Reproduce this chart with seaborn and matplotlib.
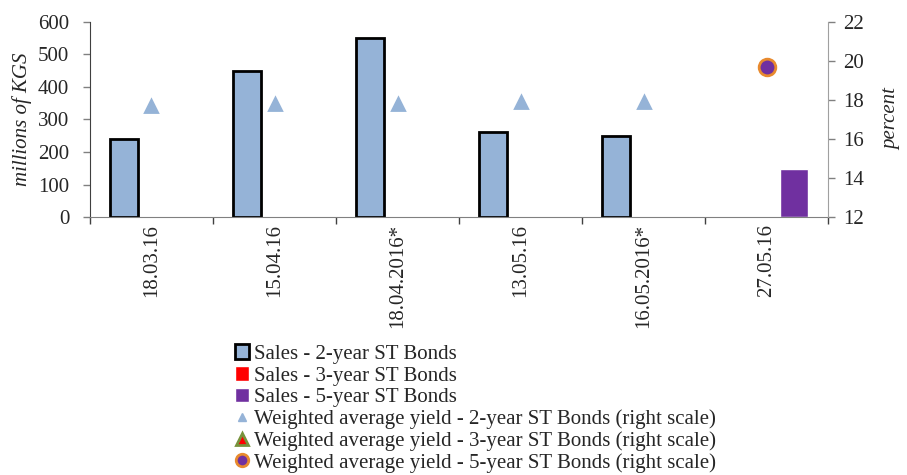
import numpy as np
import pandas as pd
import seaborn as sns
import matplotlib.pyplot as plt
from matplotlib.lines import Line2D
from matplotlib.patches import Patch

dates = ["18.03.16", "15.04.16", "18.04.2016*", "13.05.16", "16.05.2016*", "27.05.16"]
sales_2y = [240, 450, 550, 262, 250, np.nan]
sales_3y = [np.nan] * 6
sales_5y = [np.nan, np.nan, np.nan, np.nan, np.nan, 148]
yield_2y = [17.7, 17.8, 17.8, 17.9, 17.9, np.nan]
yield_5y = [np.nan, np.nan, np.nan, np.nan, np.nan, 19.7]

series = ["Sales - 2-year ST Bonds", "Sales - 3-year ST Bonds", "Sales - 5-year ST Bonds"]
bar_colors = ["#95b3d7", "#ff0000", "#7030a0"]

sns.set_style("white")
plt.rcParams["font.family"] = ["Liberation Serif", "DejaVu Serif"]
plt.rcParams["font.size"] = 15

df = pd.DataFrame({
    "date": dates * 3,
    "series": [series[0]] * 6 + [series[1]] * 6 + [series[2]] * 6,
    "sales": sales_2y + sales_3y + sales_5y,
})

fig = plt.figure(figsize=(9.07, 4.75), dpi=100)
ax = fig.add_axes([0.0992, 0.543, 0.8138, 0.411])

sns.barplot(df, x="date", y="sales", hue="series", order=dates, hue_order=series,
            palette=bar_colors, width=0.67, ax=ax, legend=False, saturation=1)
for bar in ax.containers[0]:
    bar.set_edgecolor("black")
    bar.set_linewidth(2)

ax.set_ylim(0, 600)
ax.set_yticks(range(0, 601, 100))
ax.set_xlim(-0.5, 5.5)
ax.set_xlabel("")
ax.set_ylabel("millions of KGS", style="italic", fontsize=15, labelpad=4)
ax.set_xticks(range(len(dates)))
ax.set_xticklabels(dates, rotation=90)
ax.set_xticks(np.arange(-0.5, 6, 1), minor=True)
ax.tick_params(axis="x", which="major", length=0, pad=5, bottom=True)
ax.tick_params(axis="x", which="minor", length=5, width=1, color="#404040",
               direction="out", bottom=True)
ax.tick_params(axis="y", length=5, width=1, color="#808080", direction="out",
               left=True, pad=10)
ax.spines["top"].set_visible(False)
ax.spines["right"].set_visible(False)
ax.spines["left"].set_color("#404040")
ax.spines["bottom"].set_color("#808080")

ax2 = ax.twinx()
ydf = pd.DataFrame({"date": dates, "y2": yield_2y, "y5": yield_5y})
sns.pointplot(ydf, x="date", y="y2", order=dates, ax=ax2, linestyle="none",
              marker="^", color="#95b3d7", markersize=8)
sns.pointplot(ydf, x="date", y="y5", order=dates, ax=ax2, linestyle="none",
              marker="o", color="#7030a0", markersize=12,
              markeredgecolor="#e88a2e", markeredgewidth=2)
ax2.set_xlim(-0.5, 5.5)
ax2.set_ylim(12, 22)
ax2.set_yticks(range(12, 23, 2))
ax2.set_ylabel("percent", style="italic", fontsize=15, labelpad=13)
ax2.tick_params(axis="y", length=5, width=1, color="#808080", direction="out",
                right=True, pad=6)
for s in ["top", "left", "bottom"]:
    ax2.spines[s].set_visible(False)
ax2.spines["right"].set_color("#a0a0a0")
ax2.set_xlabel("")

handles = [
    Patch(facecolor=bar_colors[0], edgecolor="black", linewidth=2),
    Patch(facecolor=bar_colors[1]),
    Patch(facecolor=bar_colors[2]),
    Line2D([], [], linestyle="none", marker="^", color="#95b3d7", markersize=6),
    Line2D([], [], linestyle="none", marker="^", markerfacecolor="#ff0000",
           markeredgecolor="#77933c", markeredgewidth=2, markersize=9),
    Line2D([], [], linestyle="none", marker="o", markerfacecolor="#7030a0",
           markeredgecolor="#e88a2e", markeredgewidth=2, markersize=9),
]
labels = series + [
    "Weighted average yield - 2-year ST Bonds (right scale)",
    "Weighted average yield - 3-year ST Bonds (right scale)",
    "Weighted average yield - 5-year ST Bonds (right scale)",
]
fig.legend(handles, labels, loc="upper left", bbox_to_anchor=(0.259, 0.275),
           frameon=False, fontsize=15, handlelength=0.7, handletextpad=0.2,
           labelspacing=0.1, borderpad=0, borderaxespad=0)

fig.savefig("out.png", dpi=100)
